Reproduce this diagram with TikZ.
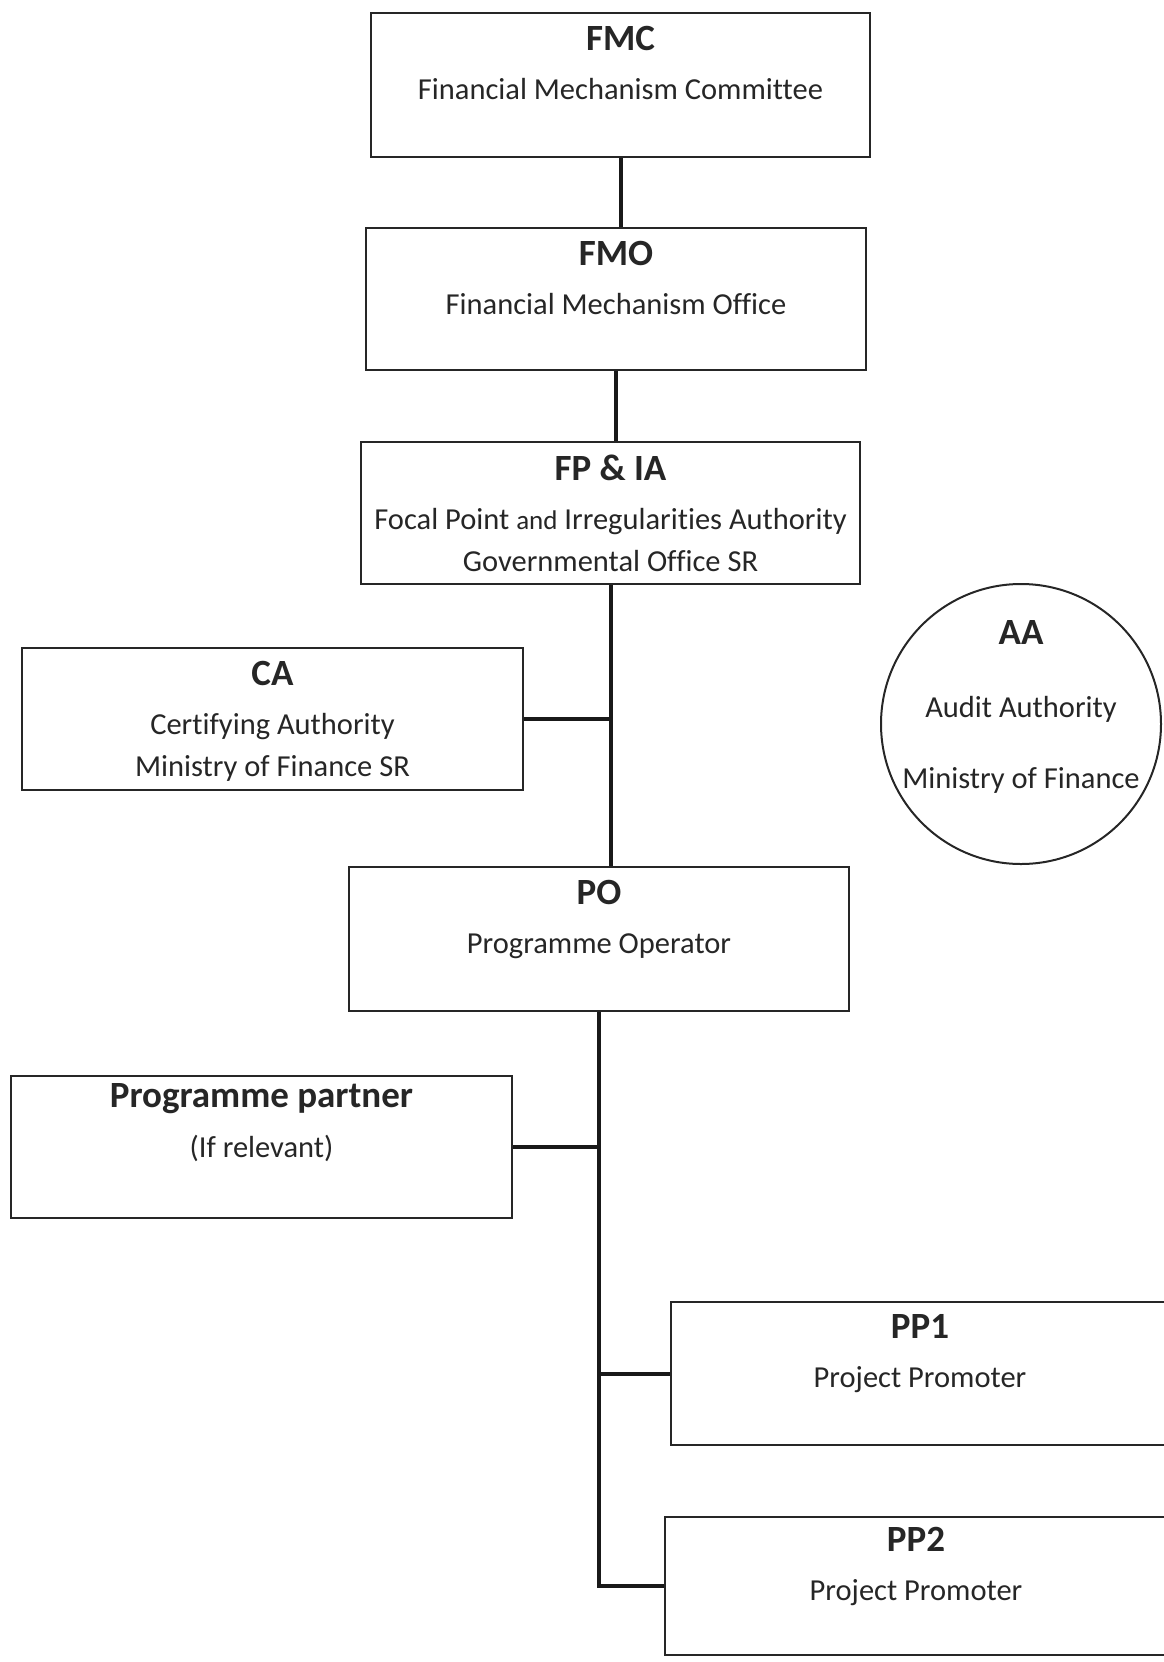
\documentclass[tikz,border=0pt]{standalone}
\usepackage{fontspec}
\setmainfont[Ligatures={NoCommon}]{Carlito}
\usetikzlibrary{positioning}
\newcommand{\unithead}[1]{{\fontsize{37}{42}\selectfont\bfseries #1}}
\begin{document}
\begin{tikzpicture}[x=1pt,y=-1pt,
  unit/.style={draw=black!85, line width=2pt, minimum width=500pt, minimum height=142pt, inner sep=0pt},
  lbl/.style={align=center, inner sep=0pt, text=black!85, font=\fontsize{30.5}{42}\selectfont},
  link/.style={line width=4pt, black!90}]
\useasboundingbox (0,0) rectangle (1163,1662);
\node[unit, minimum width=499pt, minimum height=144pt] (fmc) at (620.5,85) {};
\node[unit] (fmo) at (616,299) {};
\node[unit, minimum width=499pt] (fpia) at (610.5,513) {};
\node[unit, minimum width=501pt] (ca) at (272.5,719) {};
\node[draw=black!85, line width=2pt, circle, minimum size=280pt, inner sep=0pt] (aa) at (1021,724) {};
\node[unit, minimum height=144pt] (po) at (599,939) {};
\node[unit, minimum width=501pt] (pp) at (261.5,1147) {};
\node[unit, minimum width=498pt, minimum height=143pt] (pp1) at (920,1373.5) {};
\node[unit, minimum width=502pt, minimum height=138pt] (pp2) at (916,1586) {};
\node[lbl, below=14pt of fmc.north] (fmc text) {\unithead{FMC}\\[7pt]Financial Mechanism Committee};
\node[lbl, below=14pt of fmo.north] (fmo text) {\unithead{FMO}\\[7pt]Financial Mechanism Office};
\node[lbl, below=14pt of fpia.north] (fpia text) {\unithead{FP \& IA}\\[7pt]Focal Point {\fontsize{27}{42}\selectfont and} Irregularities Authority\\Governmental Office SR};
\node[lbl, below=14pt of ca.north] (ca text) {\unithead{CA}\\[7pt]Certifying Authority\\Ministry of Finance SR};
\node[lbl, below=37pt of aa.north] (aa text) {\unithead{AA}\\[31pt]Audit Authority\\[29pt]Ministry of Finance};
\node[lbl, below=8pt of pp.north] (pp text) {\unithead{Programme partner}\\[8pt](If relevant)};
\node[lbl, below=14pt of po.north] (po text) {\unithead{PO}\\[7pt]Programme Operator};
\node[lbl, below=13pt of pp1.north] (pp1 text) {\unithead{PP1}\\[7pt]Project Promoter};
\node[lbl, below=11pt of pp2.north] (pp2 text) {\unithead{PP2}\\[7pt]Project Promoter};
\draw[link] (fmc.south) -- (fmc.south |- fmo.north);
\draw[link] (fmo.south) -- (fmo.south |- fpia.north);
\draw[link] (fpia.south) -- (fpia.south |- po.north);
\draw[link] (ca.east) -- (ca.east -| fpia.south);
\draw[link] (po.south) |- (pp2.west);
\draw[link] (pp.east) -- (pp.east -| po.south);
\draw[link] (pp1.west) -- (pp1.west -| po.south);
\end{tikzpicture}
\end{document}
